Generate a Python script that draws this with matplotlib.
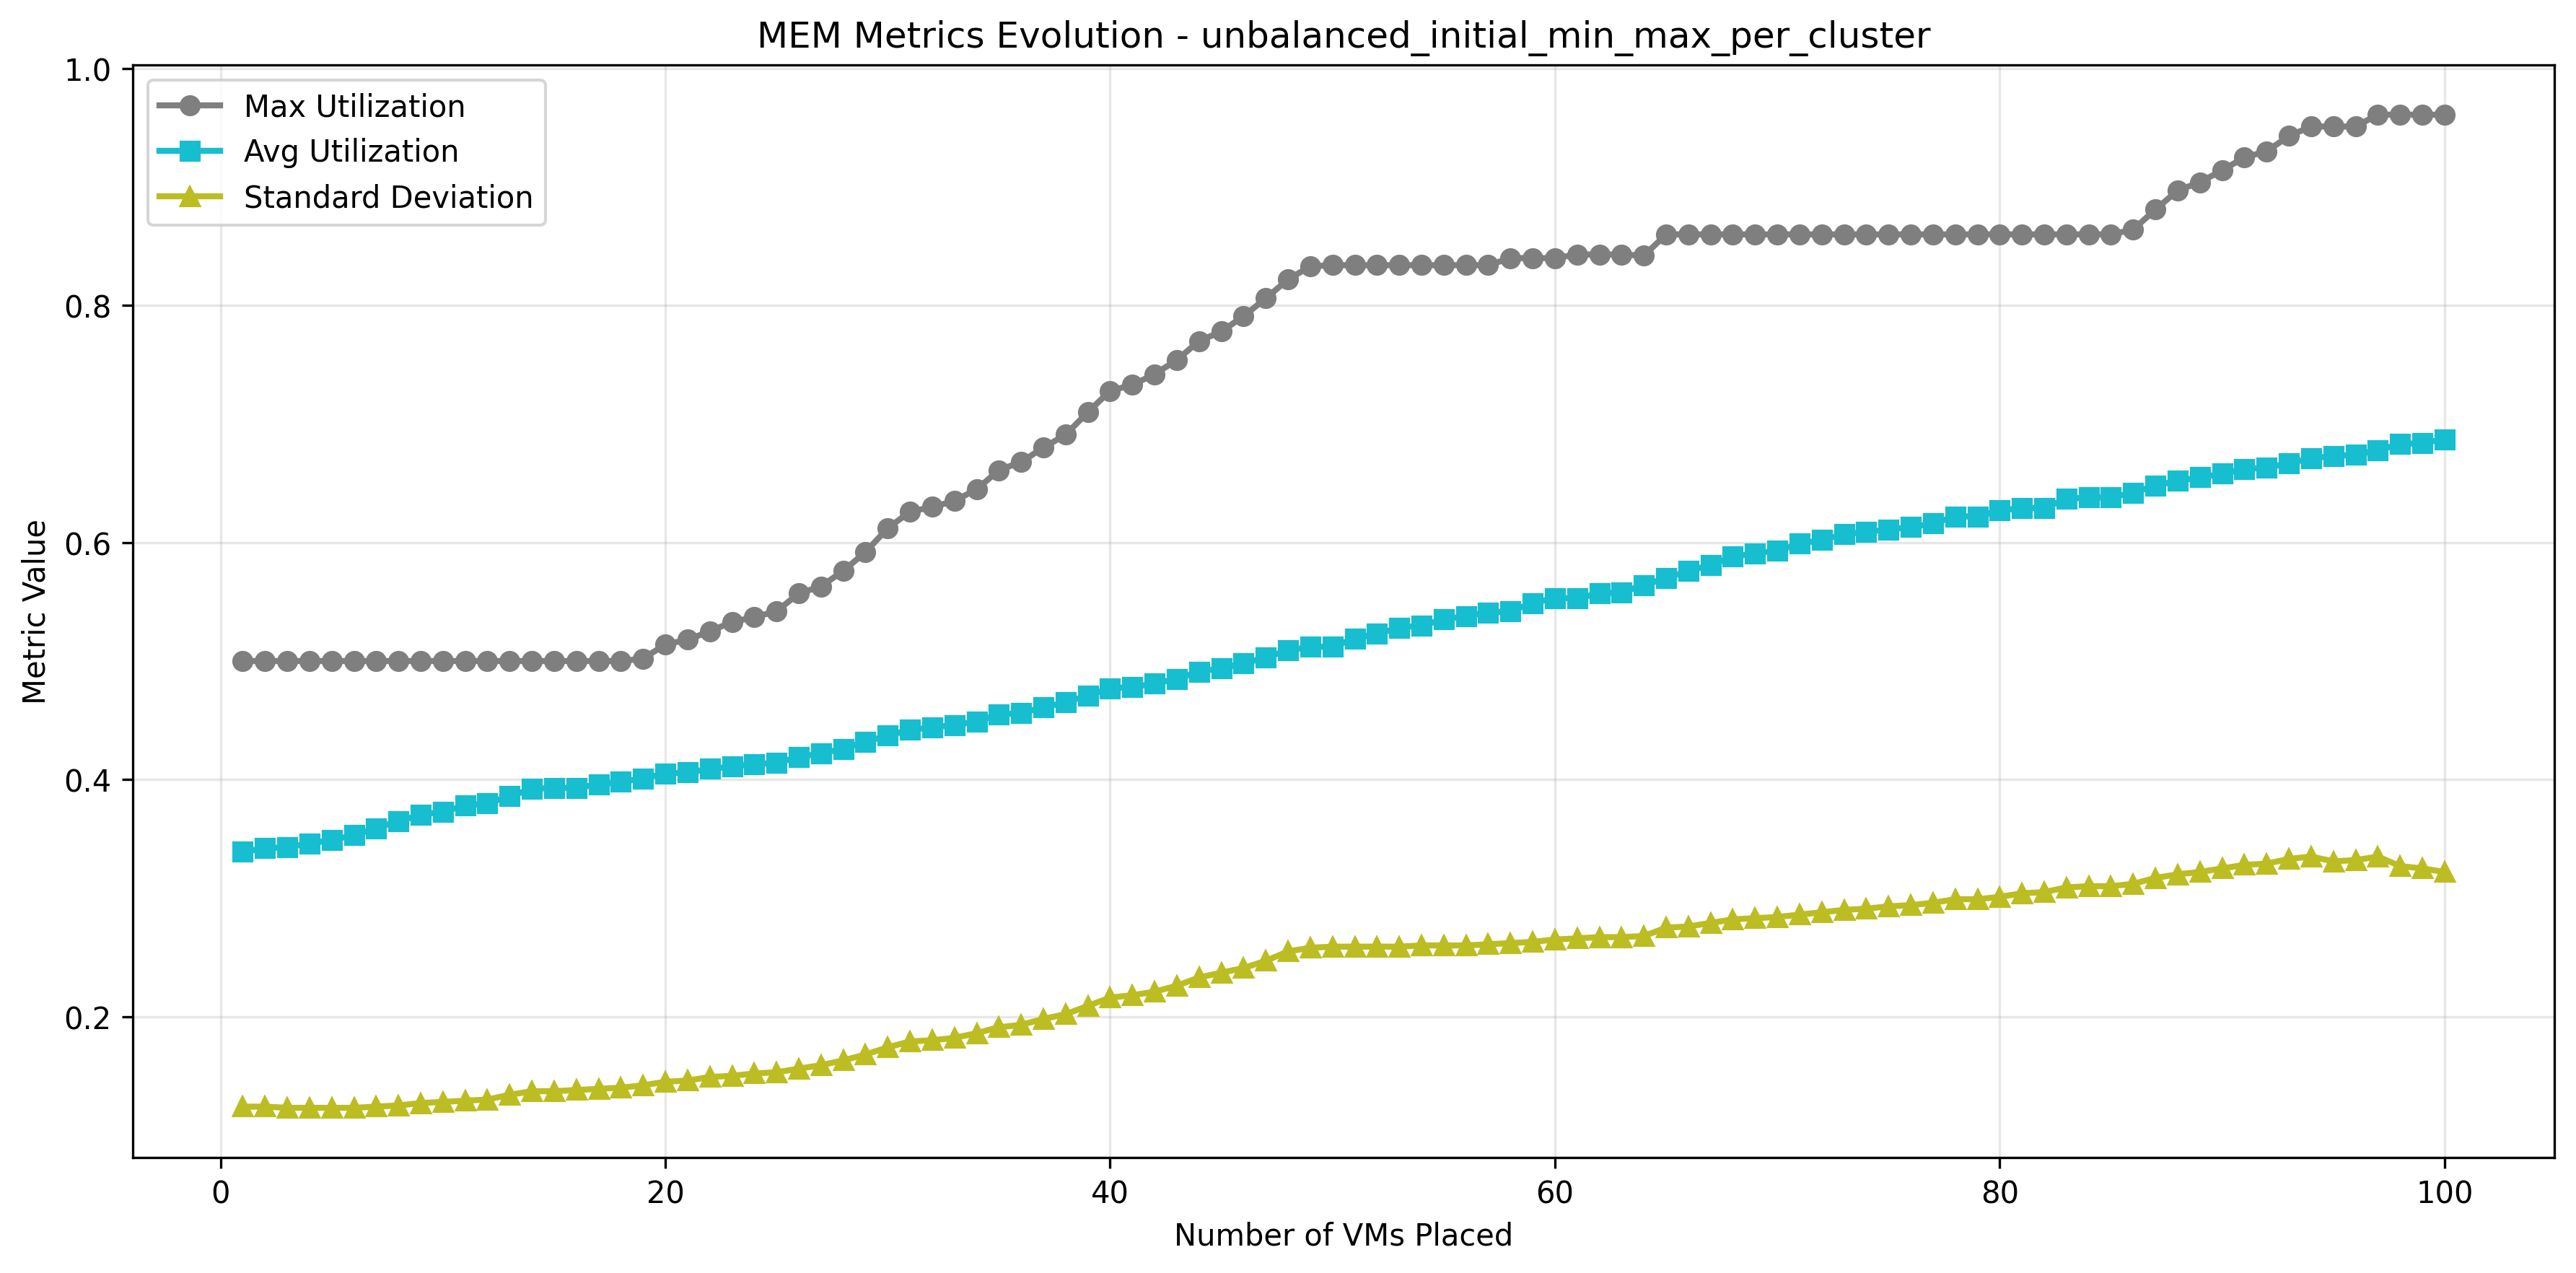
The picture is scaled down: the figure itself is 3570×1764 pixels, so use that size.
import matplotlib
matplotlib.use("Agg")
import matplotlib.pyplot as plt
import numpy as np

vms_placed = list(range(1, 101))

max_util = [
    0.500, 0.500, 0.500, 0.500, 0.500, 0.500, 0.500, 0.500, 0.500, 0.500,
    0.500, 0.500, 0.500, 0.500, 0.500, 0.500, 0.500, 0.500, 0.502, 0.514,
    0.518, 0.525, 0.533, 0.537, 0.542, 0.557, 0.563, 0.576, 0.592, 0.612,
    0.626, 0.630, 0.635, 0.645, 0.661, 0.668, 0.680, 0.691, 0.710, 0.728,
    0.733, 0.742, 0.754, 0.770, 0.778, 0.791, 0.806, 0.822, 0.833, 0.834,
    0.834, 0.834, 0.834, 0.834, 0.834, 0.834, 0.834, 0.840, 0.840, 0.840,
    0.843, 0.843, 0.843, 0.842, 0.860, 0.860, 0.860, 0.860, 0.860, 0.860,
    0.860, 0.860, 0.860, 0.860, 0.860, 0.860, 0.860, 0.860, 0.860, 0.860,
    0.860, 0.860, 0.860, 0.860, 0.860, 0.864, 0.881, 0.897, 0.904, 0.914,
    0.925, 0.930, 0.943, 0.951, 0.951, 0.951, 0.961, 0.961, 0.961, 0.961,
]

avg_util = [
    0.339, 0.342, 0.343, 0.346, 0.349, 0.353, 0.359, 0.365, 0.370, 0.373,
    0.378, 0.380, 0.386, 0.392, 0.393, 0.393, 0.396, 0.398, 0.401, 0.405,
    0.406, 0.409, 0.411, 0.413, 0.414, 0.419, 0.422, 0.426, 0.432, 0.437,
    0.442, 0.444, 0.446, 0.449, 0.455, 0.456, 0.461, 0.465, 0.471, 0.477,
    0.478, 0.481, 0.485, 0.491, 0.494, 0.498, 0.503, 0.509, 0.512, 0.512,
    0.519, 0.523, 0.528, 0.530, 0.535, 0.538, 0.541, 0.542, 0.549, 0.553,
    0.553, 0.557, 0.558, 0.564, 0.570, 0.576, 0.581, 0.588, 0.591, 0.593,
    0.599, 0.602, 0.607, 0.609, 0.611, 0.613, 0.616, 0.622, 0.622, 0.627,
    0.629, 0.629, 0.637, 0.638, 0.638, 0.642, 0.648, 0.652, 0.655, 0.658,
    0.662, 0.663, 0.667, 0.671, 0.673, 0.674, 0.678, 0.683, 0.684, 0.687,
]

std_dev = [
    0.124, 0.124, 0.123, 0.123, 0.123, 0.123, 0.124, 0.125, 0.127, 0.128,
    0.129, 0.130, 0.134, 0.137, 0.137, 0.138, 0.139, 0.140, 0.142, 0.145,
    0.146, 0.149, 0.150, 0.152, 0.153, 0.156, 0.159, 0.163, 0.168, 0.174,
    0.179, 0.180, 0.182, 0.186, 0.191, 0.193, 0.198, 0.202, 0.209, 0.216,
    0.218, 0.221, 0.226, 0.233, 0.237, 0.241, 0.247, 0.255, 0.258, 0.259,
    0.259, 0.259, 0.259, 0.260, 0.260, 0.260, 0.261, 0.262, 0.263, 0.265,
    0.266, 0.267, 0.267, 0.268, 0.275, 0.276, 0.279, 0.282, 0.283, 0.284,
    0.286, 0.288, 0.290, 0.291, 0.293, 0.294, 0.296, 0.299, 0.299, 0.301,
    0.304, 0.305, 0.309, 0.310, 0.310, 0.312, 0.317, 0.320, 0.322, 0.325,
    0.328, 0.329, 0.333, 0.335, 0.331, 0.332, 0.335, 0.327, 0.325, 0.322,
]

series_labels = ["Max Utilization", "Avg Utilization", "Standard Deviation"]
title_text = "MEM Metrics Evolution - unbalanced_initial_min_max_per_cluster"

fig = plt.figure(figsize=(11.9, 5.8833), dpi=300)
ax = fig.add_axes([0.0515, 0.0907, 0.9402, 0.8577])

ax.plot(vms_placed, max_util, marker='o', color='#7f7f7f', linewidth=2, markersize=6, label=series_labels[0])
ax.plot(vms_placed, avg_util, marker='s', color='#17becf', linewidth=2, markersize=6, label=series_labels[1])
ax.plot(vms_placed, std_dev, marker='^', color='#bcbd22', linewidth=2, markersize=6, label=series_labels[2])

ax.set_title(title_text, fontsize=12)
ax.set_xlabel("Number of VMs Placed", fontsize=10)
ax.set_ylabel("Metric Value", fontsize=10)
ax.grid(True, alpha=0.3)
ax.legend(loc='upper left', fontsize=10)

fig.savefig("out.png", dpi=300)
